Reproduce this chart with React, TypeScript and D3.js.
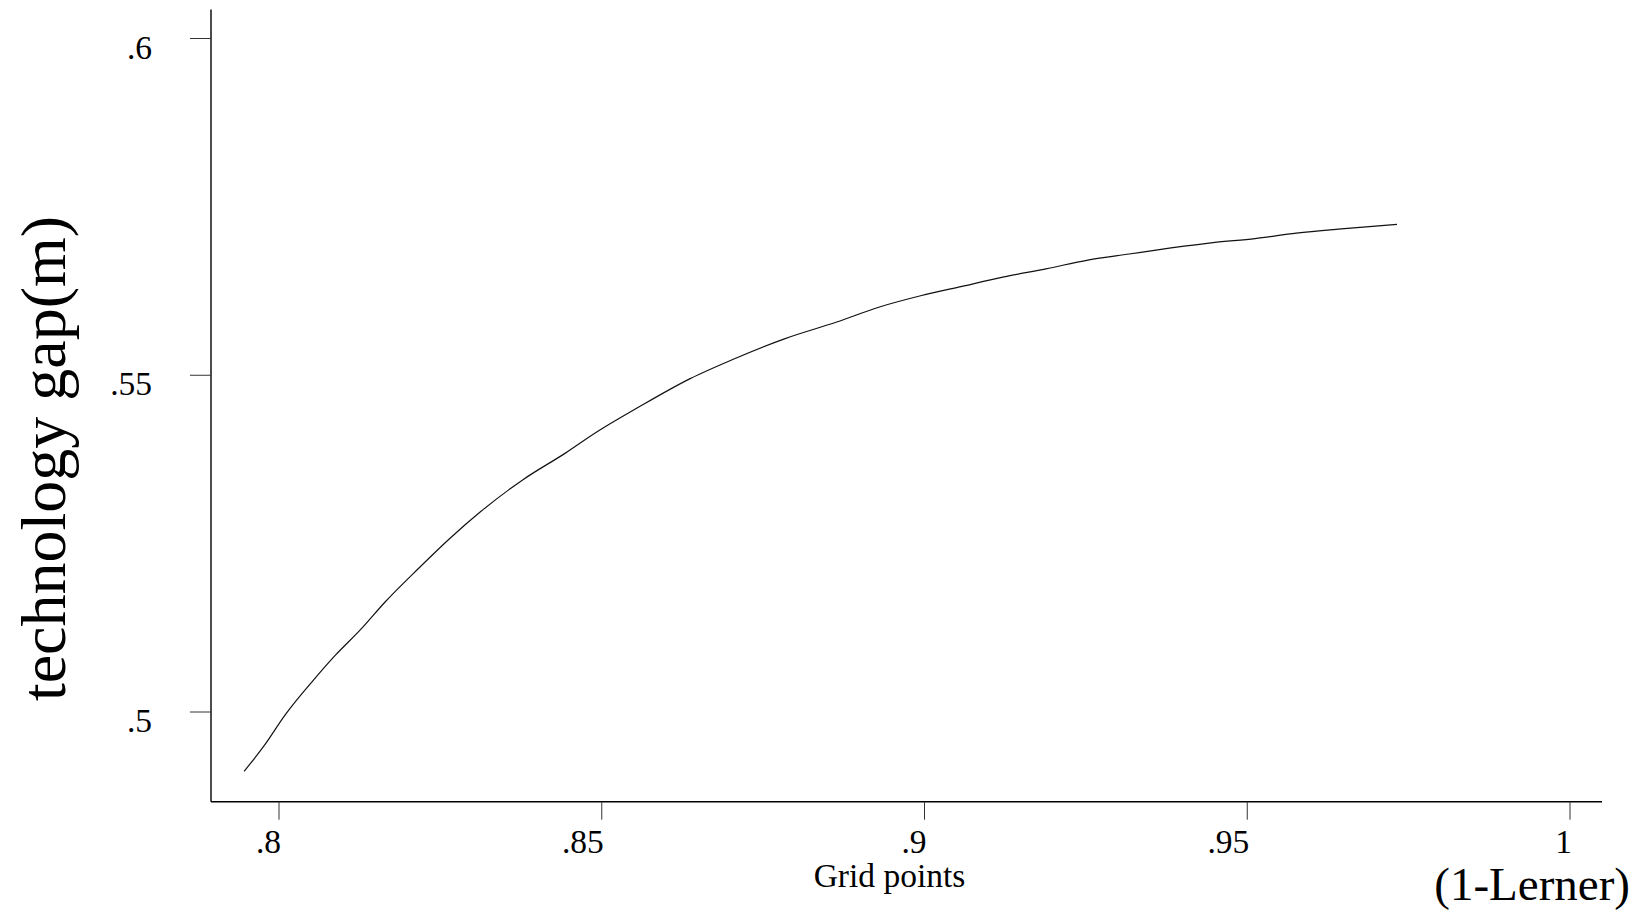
import React from "react";
import * as d3 from "d3";

const gridX: number[] = [
  0.7946, 0.7977, 0.8009, 0.8054, 0.8087, 0.8127, 0.8164, 0.8216, 0.8265, 0.8313,
  0.8378, 0.8443, 0.8491, 0.8556, 0.8637, 0.8702, 0.8783, 0.8864, 0.8929, 0.8994,
  0.9058, 0.9123, 0.9188, 0.9253, 0.9317, 0.9382, 0.9447, 0.9512, 0.9576, 0.9641, 0.9732,
];
const gapY: number[] = [
  0.4912, 0.495, 0.4995, 0.5048, 0.5084, 0.5123, 0.5163, 0.5213, 0.5258, 0.5298,
  0.5345, 0.5384, 0.5415, 0.5452, 0.5495, 0.5523, 0.5554, 0.5579, 0.5601, 0.5618,
  0.5632, 0.5646, 0.5658, 0.5671, 0.568, 0.5689, 0.5697, 0.5703, 0.5711, 0.5717, 0.5724,
];
const xTicks: number[] = [0.8, 0.85, 0.9, 0.95, 1];
const xTickLabels: string[] = [".8", ".85", ".9", ".95", "1"];
const yTicks: number[] = [0.5, 0.55, 0.6];
const yTickLabels: string[] = [".5", ".55", ".6"];

const W = 1641;
const H = 915;
const FONT = "'Liberation Serif', 'Times New Roman', serif";

export default function App() {
  const x = d3.scaleLinear().domain([0.8, 1]).range([279, 1570]);
  const y = d3.scaleLinear().domain([0.5, 0.6]).range([712, 38.5]);
  const axisLeft = 211;
  const axisBottom = 801.7;
  const axisTop = 9.4;
  const axisRight = 1602;

  const pts: [number, number][] = gridX.map((v, i) => [v, gapY[i]]);
  const line = d3
    .line<[number, number]>()
    .x((d) => x(d[0]))
    .y((d) => y(d[1]))
    .curve(d3.curveMonotoneX);

  return (
    <div style={{ position: "fixed", left: 0, top: 0, width: W, height: H, background: "#fff" }}>
      <svg width={W} height={H} style={{ display: "block" }} fontFamily={FONT}>
        <rect width={W} height={H} fill="#fff" />
        {/* axes */}
        <line x1={axisLeft} x2={axisLeft} y1={axisTop} y2={axisBottom} stroke="#000" strokeWidth={1.4} />
        <line x1={axisLeft} x2={axisRight} y1={axisBottom} y2={axisBottom} stroke="#000" strokeWidth={1.4} />
        {/* y ticks */}
        {yTicks.map((t, i) => (
          <g key={"y" + i}>
            <line x1={axisLeft - 21} x2={axisLeft} y1={y(t)} y2={y(t)} stroke="#333" strokeWidth={1} />
            <text x={152} y={y(t) + 20} fontSize={33.5} textAnchor="end" fill="#000">
              {yTickLabels[i]}
            </text>
          </g>
        ))}
        {/* x ticks */}
        {xTicks.map((t, i) => (
          <g key={"x" + i}>
            <line x1={x(t)} x2={x(t)} y1={axisBottom} y2={axisBottom + 18} stroke="#333" strokeWidth={1} />
            <text x={x(t) + 2} y={853} fontSize={33.5} textAnchor="end" fill="#000">
              {xTickLabels[i]}
            </text>
          </g>
        ))}
        {/* series */}
        <path d={line(pts) || ""} fill="none" stroke="#111" strokeWidth={1.2} />
        {/* titles */}
        <text x={889.5} y={887} fontSize={33.5} textAnchor="middle" fill="#000">
          Grid points
        </text>
        <text x={1630} y={900} fontSize={47} textAnchor="end" fill="#000">
          (1-Lerner)
        </text>
        <text
          transform={`translate(65,458.5) rotate(-90)`}
          fontSize={64}
          textAnchor="middle"
          fill="#000"
        >
          technology gap(m)
        </text>
      </svg>
    </div>
  );
}
